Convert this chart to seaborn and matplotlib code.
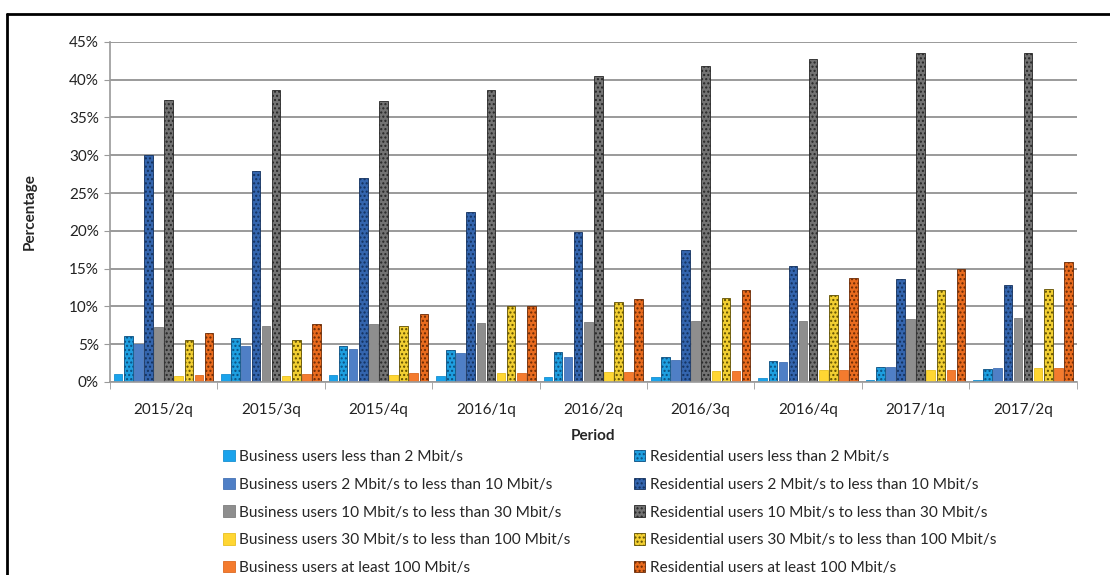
import pandas as pd
import matplotlib
matplotlib.use('Agg')
import matplotlib.pyplot as plt
import seaborn as sns
from matplotlib.patches import Patch
from matplotlib.lines import Line2D
from matplotlib.ticker import FuncFormatter, FixedLocator

# Data (percent of lines)
periods = ['2015/2q', '2015/3q', '2015/4q', '2016/1q', '2016/2q',
           '2016/3q', '2016/4q', '2017/1q', '2017/2q']

bus_lt2 = [1.0, 1.0, 0.9, 0.8, 0.7, 0.6, 0.5, 0.3, 0.3]
res_lt2 = [6.1, 5.8, 4.8, 4.2, 4.0, 3.3, 2.7, 2.0, 1.7]
bus_2_10 = [5.0, 4.7, 4.3, 3.8, 3.3, 2.9, 2.6, 2.0, 1.8]
res_2_10 = [30.0, 27.9, 27.0, 22.5, 19.8, 17.4, 15.3, 13.6, 12.8]
bus_10_30 = [7.3, 7.4, 7.7, 7.8, 7.9, 8.0, 8.0, 8.3, 8.4]
res_10_30 = [37.3, 38.6, 37.2, 38.7, 40.5, 41.8, 42.7, 43.5, 43.6]
bus_30_100 = [0.8, 0.8, 0.9, 1.2, 1.3, 1.4, 1.5, 1.6, 1.8]
res_30_100 = [5.6, 5.6, 7.4, 10.0, 10.6, 11.1, 11.5, 12.2, 12.3]
bus_ge100 = [0.9, 1.0, 1.1, 1.2, 1.3, 1.4, 1.5, 1.6, 1.8]
res_ge100 = [6.4, 7.6, 9.0, 10.1, 11.0, 12.2, 13.8, 15.0, 15.9]

series_names = [
    'Business users less than 2 Mbit/s',
    'Residential users less than 2 Mbit/s',
    'Business users 2 Mbit/s to less than 10 Mbit/s',
    'Residential users 2 Mbit/s to less than 10 Mbit/s',
    'Business users 10 Mbit/s to less than 30 Mbit/s',
    'Residential users 10 Mbit/s to less than 30 Mbit/s',
    'Business users 30 Mbit/s to less than 100 Mbit/s',
    'Residential users 30 Mbit/s to less than 100 Mbit/s',
    'Business users at least 100 Mbit/s',
    'Residential users at least 100 Mbit/s',
]
series_values = [bus_lt2, res_lt2, bus_2_10, res_2_10, bus_10_30,
                 res_10_30, bus_30_100, res_30_100, bus_ge100, res_ge100]

face_colors = ['#1AA3EC', '#1E9FE0', '#4F7FC6', '#3465AE', '#8E8E8E',
               '#737373', '#FFD633', '#F2CF32', '#F47B2E', '#E96B1E']
edge_colors = ['#1790D0', '#0B4F80', '#4472B5', '#13315E', '#7E7E7E',
               '#262626', '#E8C020', '#5E4E00', '#DD6A22', '#6A2A05']

# Long table for seaborn
rows = []
for name, vals in zip(series_names, series_values):
    for p, v in zip(periods, vals):
        rows.append({'Period': p, 'Series': name, 'Value': v})
df = pd.DataFrame(rows)

sns.set_style('white')
plt.rcParams['font.family'] = ['Lato', 'DejaVu Sans']
plt.rcParams['hatch.linewidth'] = 1.0

fig = plt.figure(figsize=(11.1, 5.75), dpi=100)
ax = fig.add_axes([0.099, 0.336, 0.871, 0.591])

sns.barplot(data=df, x='Period', y='Value', hue='Series', hue_order=series_names,
            palette=face_colors, saturation=1, width=0.94, gap=0.15,
            legend=False, ax=ax)

# Residential bars get a dotted texture
for i, cont in enumerate(ax.containers):
    for bar in cont:
        bar.set_edgecolor(edge_colors[i])
        bar.set_linewidth(0.6)
        if i % 2 == 1:
            bar.set_hatch('....')

ax.set_ylim(0, 45)
ax.set_xlim(-0.5, len(periods) - 0.5)
ax.set_yticks(range(0, 50, 5))
ax.yaxis.set_major_formatter(FuncFormatter(lambda v, p: f'{v:.0f}%'))
ax.yaxis.grid(True, color='#9A9A9A', linewidth=1.4)
ax.set_axisbelow(True)

for side in ['top', 'right']:
    ax.spines[side].set_visible(False)
for side in ['left', 'bottom']:
    ax.spines[side].set_color('#9A9A9A')
    ax.spines[side].set_linewidth(1.2)

ax.tick_params(axis='y', which='major', length=4, color='#9A9A9A', labelsize=11,
               labelcolor='#222222', pad=4, left=True)
ax.tick_params(axis='x', which='major', length=0, labelsize=11,
               labelcolor='#222222', pad=15)
ax.xaxis.set_minor_locator(FixedLocator([k + 0.5 for k in range(-1, len(periods))]))
ax.tick_params(axis='x', which='minor', length=5, color='#9A9A9A', bottom=True)

ax.set_xlabel('Period', fontsize=11, fontweight='bold', labelpad=9)
ax.set_ylabel('Percentage', fontsize=11, fontweight='bold', labelpad=23)

# Legend, business column then residential column
handles = []
for i, name in enumerate(series_names):
    h = Patch(facecolor=face_colors[i], edgecolor=edge_colors[i], linewidth=0.6,
              hatch='....' if i % 2 == 1 else None, label=name)
    handles.append(h)
order = [0, 2, 4, 6, 8, 1, 3, 5, 7, 9]
fig.legend([handles[k] for k in order], [series_names[k] for k in order],
           loc='upper left', bbox_to_anchor=(0.201, 0.2174), ncol=2, frameon=False,
           fontsize=11.1, handlelength=0.75, handleheight=0.75, handletextpad=0.3,
           labelspacing=0.89, columnspacing=4.1, borderaxespad=0, borderpad=0)

# Frame around the picture (top and left edges visible)
fig.add_artist(Line2D([7 / 1110, 7 / 1110], [0, 1 - 14 / 575], color='black',
                      linewidth=2, transform=fig.transFigure))
fig.add_artist(Line2D([7 / 1110, 1], [1 - 14 / 575, 1 - 14 / 575], color='black',
                      linewidth=2, transform=fig.transFigure))

fig.savefig('out.png', dpi=100)
